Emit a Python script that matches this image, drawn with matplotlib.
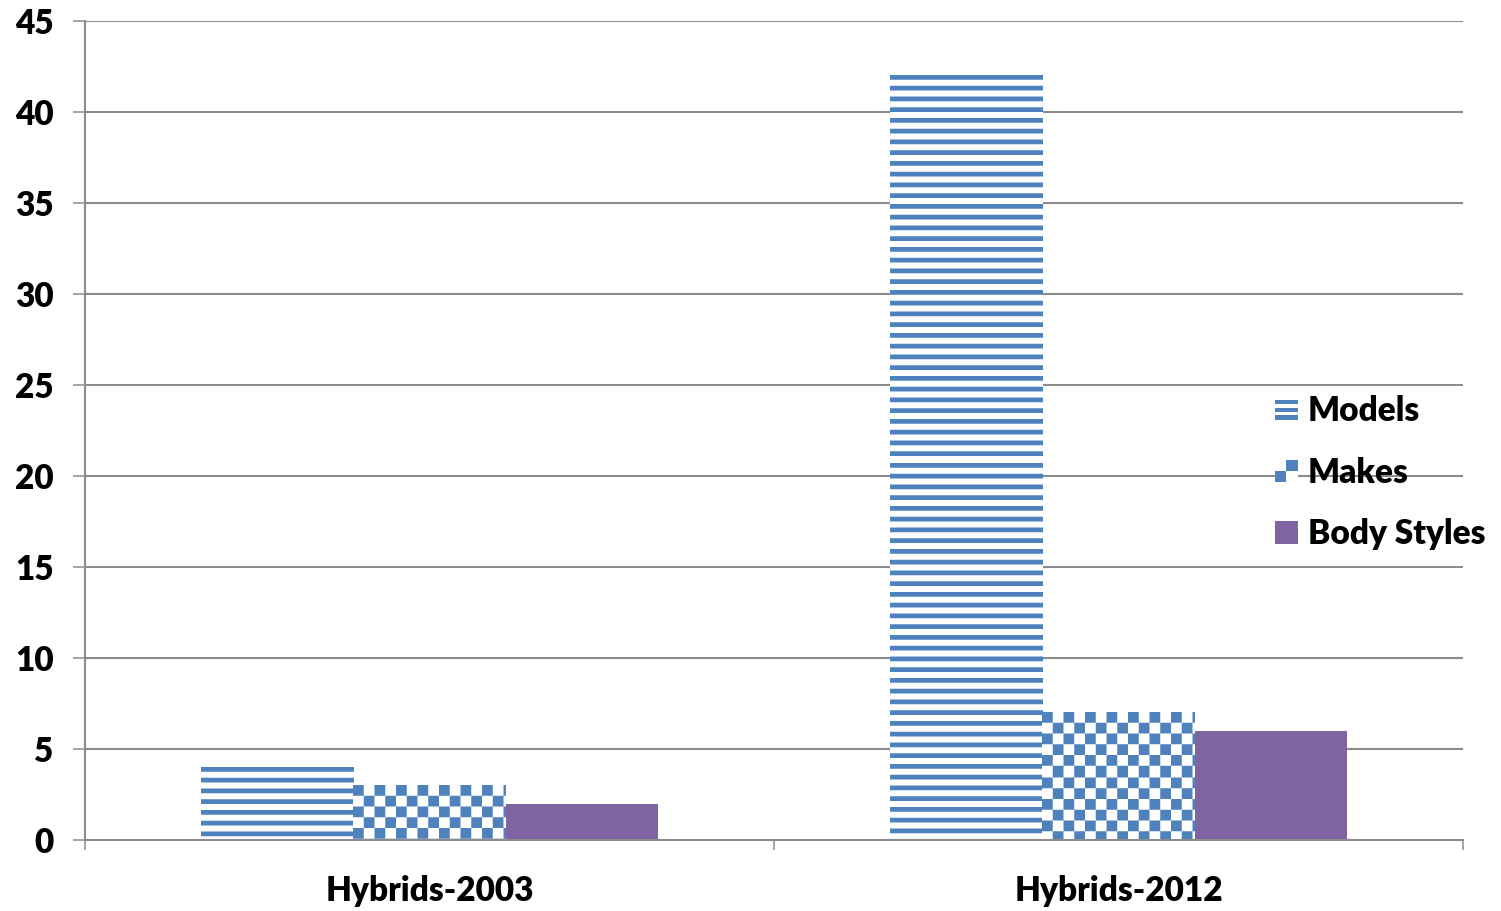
import numpy as np
import matplotlib
matplotlib.use('Agg')
import matplotlib.pyplot as plt
from matplotlib.legend_handler import HandlerBase
from matplotlib.patches import Rectangle, Patch
from matplotlib.colors import to_rgb

categories = ['Hybrids-2003', 'Hybrids-2012']
series_names = ['Models', 'Makes', 'Body Styles']
models = [4, 42]
makes = [3, 7]
body_styles = [2, 6]
y_ticks = [0, 5, 10, 15, 20, 25, 30, 35, 40, 45]

BLUE = '#4F81BD'
PURPLE = '#8064A2'
GRID = '#8C8C8C'
FONT = 'Lato'
FW = 'heavy'
FS = 24

W, H, DPI = 1501, 911, 100
fig = plt.figure(figsize=(W / DPI, H / DPI), dpi=DPI)
ax = fig.add_axes([85 / W, 1 - 840 / H, (1463 - 85) / W, (840 - 21) / H])

x = np.arange(len(categories))
bw = 0.2215
ax.set_xlim(-0.5, 1.5)
ax.set_ylim(0, 45)
b1 = ax.bar(x - bw, models, bw, color='none', edgecolor='none', zorder=2)
b2 = ax.bar(x, makes, bw, color='none', edgecolor='none', zorder=2)
b3 = ax.bar(x + bw, body_styles, bw, color=PURPLE, edgecolor='none', zorder=2)


def pattern(kind, wpx, hpx, ss=4):
    r = (np.arange(hpx * ss) + 0.5) / ss
    c = (np.arange(wpx * ss) + 0.5) / ss
    R, C = np.meshgrid(r, c, indexing='ij')
    if kind == 'stripes':
        m = ((R % 10.75) < 4.8).astype(float)
    else:
        m = (((R // 10.75) + (C // 10.75)) % 2 == 0).astype(float)
    m = m.reshape(hpx, ss, wpx, ss).mean(axis=(1, 3))
    blue = np.array(to_rgb(BLUE))
    img = 1 - m[..., None] * (1 - blue[None, None, :])
    return img


for bars, kind in ((b1, 'stripes'), (b2, 'checker')):
    for p in bars:
        x0, y0 = p.get_x(), p.get_y()
        x1, y1 = x0 + p.get_width(), y0 + p.get_height()
        (px0, py0), (px1, py1) = ax.transData.transform([(x0, y0), (x1, y1)])
        wpx, hpx = int(round(px1 - px0)), int(round(py1 - py0))
        ax.imshow(pattern(kind, wpx, hpx), extent=(x0, x1, y0, y1), origin='upper',
                  interpolation='nearest', aspect='auto', zorder=2)

ax.set_xlim(-0.5, 1.5)
ax.set_ylim(0, 45)

# axes styling
for s in ('top', 'right'):
    ax.spines[s].set_visible(False)
for s in ('left', 'bottom'):
    ax.spines[s].set_color(GRID)
    ax.spines[s].set_linewidth(1.5)
ax.yaxis.grid(True, color=GRID, linewidth=1.5, zorder=0)
ax.set_axisbelow(True)
ax.set_yticks(y_ticks)
ax.set_yticklabels([str(t) for t in y_ticks], fontfamily=FONT, fontweight=FW, fontsize=FS)
ax.tick_params(axis='y', length=8.6, width=1.1, color=GRID, pad=14)
ax.set_xticks(x)
ax.set_xticklabels(categories, fontfamily=FONT, fontweight=FW, fontsize=FS)
ax.set_xticks([-0.5, 0.5, 1.5], minor=True)
ax.tick_params(axis='x', which='major', length=0, pad=25)
ax.tick_params(axis='x', which='minor', length=7, width=1.1, color=GRID)


class StripeHandler(HandlerBase):
    def create_artists(self, legend, orig_handle, xd, yd, w, h, fontsize, trans):
        arts = []
        n = 3
        sh = h / n
        for i in range(n):
            arts.append(Rectangle((-xd, -yd + i * sh + sh * 0.15), w, sh * 0.55,
                                  facecolor=BLUE, edgecolor='none', transform=trans))
        return arts


class CheckerHandler(HandlerBase):
    def create_artists(self, legend, orig_handle, xd, yd, w, h, fontsize, trans):
        arts = [Rectangle((-xd, -yd), w, h, facecolor='white', edgecolor='none', transform=trans)]
        arts.append(Rectangle((-xd + w / 2, -yd + h / 2), w / 2, h / 2,
                              facecolor=BLUE, edgecolor='none', transform=trans))
        arts.append(Rectangle((-xd, -yd), w / 2, h / 2,
                              facecolor=BLUE, edgecolor='none', transform=trans))
        return arts


class SolidHandler(HandlerBase):
    def create_artists(self, legend, orig_handle, xd, yd, w, h, fontsize, trans):
        return [Rectangle((-xd, -yd), w, h, facecolor=PURPLE, edgecolor='none', transform=trans)]


hm = Patch(label=series_names[0])
hk = Patch(label=series_names[1])
hb = Patch(label=series_names[2])
leg = ax.legend([hm, hk, hb], series_names,
                handler_map={hm: StripeHandler(), hk: CheckerHandler(), hb: SolidHandler()},
                loc='upper left', bbox_to_anchor=(1275 / W, 1 - 395 / H),
                bbox_transform=fig.transFigure, frameon=False,
                prop={'family': FONT, 'weight': FW, 'size': FS},
                handlelength=0.68, handleheight=0.68, handletextpad=0.3,
                labelspacing=0.89, borderpad=0, borderaxespad=0)

fig.savefig('out.png', dpi=DPI)
